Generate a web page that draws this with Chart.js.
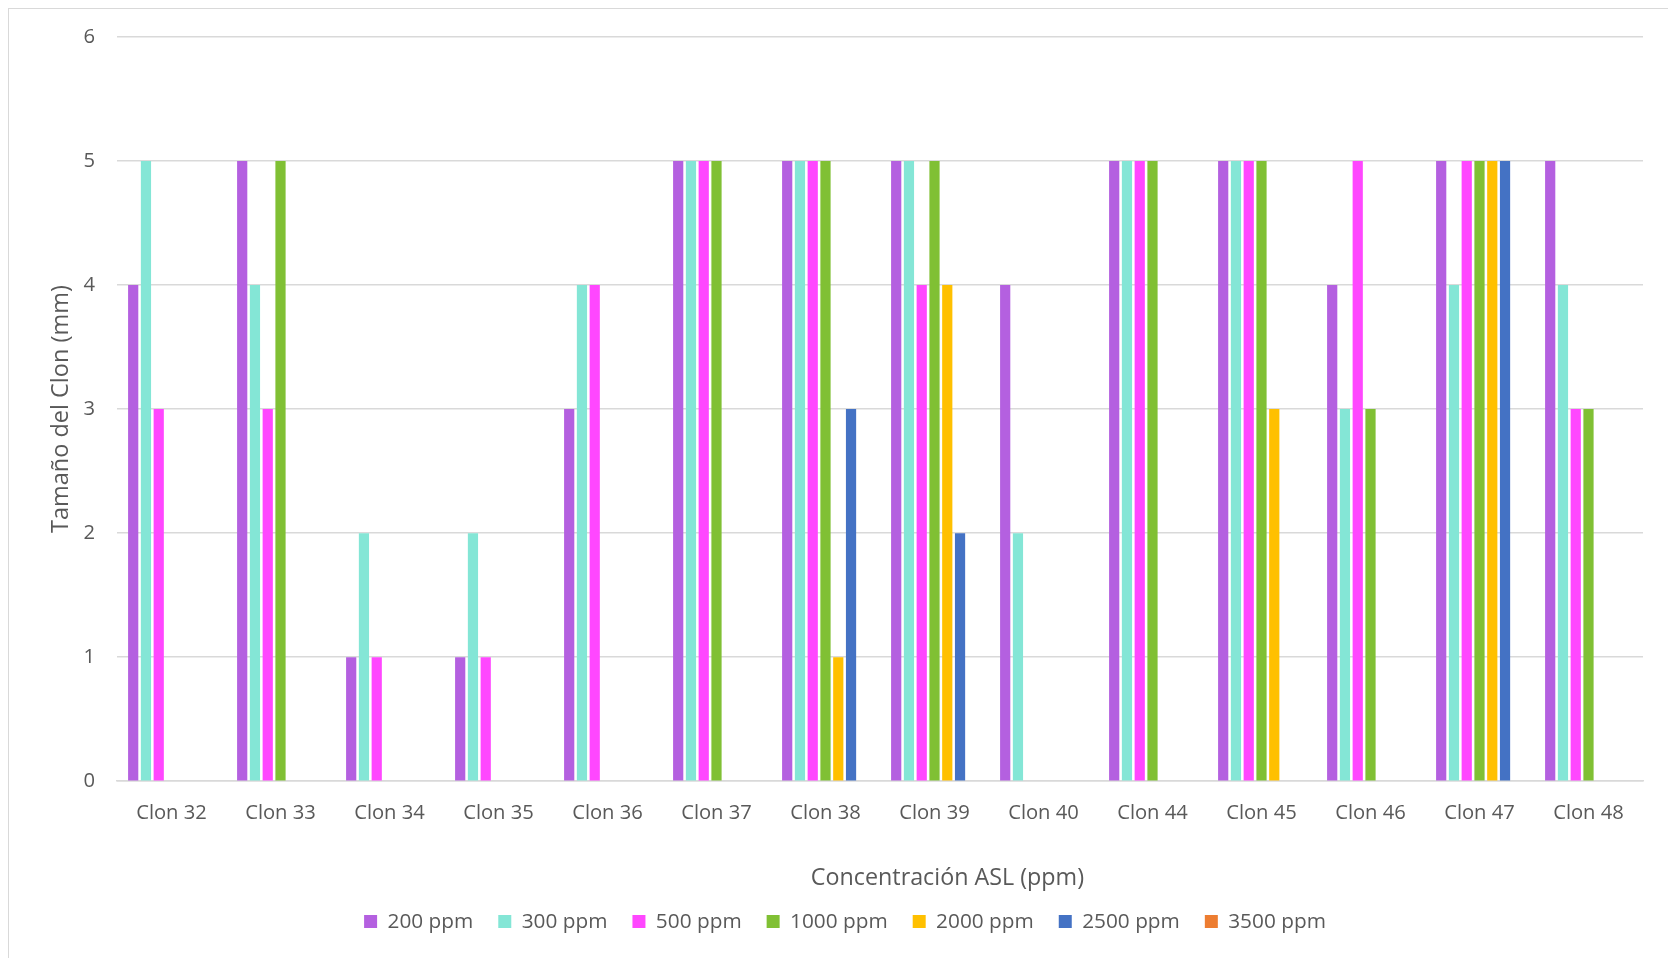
<!DOCTYPE html>
<html lang="es">
<head>
<meta charset="utf-8">
<title>Tamaño del Clon según concentración ASL</title>
<script src="https://cdn.jsdelivr.net/npm/chart.js@4.4.1/dist/chart.umd.min.js"></script>
<style>
  html, body { margin: 0; padding: 0; background: #ffffff; }
  #wrap { position: absolute; left: 0; top: 0; width: 1668px; height: 958px; }
  #frame { position: absolute; left: 8px; top: 8px; right: 0; bottom: 0;
           border-left: 1px solid #d9d9d9; border-top: 1px solid #d9d9d9; pointer-events: none; }
  canvas { display: block; }
</style>
</head>
<body>
<div id="wrap">
  <canvas id="chart" width="1668" height="958"></canvas>
  <div id="frame"></div>
</div>
<script>
// Clones measured
const categories = ['Clon 32', 'Clon 33', 'Clon 34', 'Clon 35', 'Clon 36', 'Clon 37', 'Clon 38',
                    'Clon 39', 'Clon 40', 'Clon 44', 'Clon 45', 'Clon 46', 'Clon 47', 'Clon 48'];

// Clone size (mm) for each ASL concentration
const ppm200  = [4, 5, 1, 1, 3, 5, 5, 5, 4, 5, 5, 4, 5, 5];
const ppm300  = [5, 4, 2, 2, 4, 5, 5, 5, 2, 5, 5, 3, 4, 4];
const ppm500  = [3, 3, 1, 1, 4, 5, 5, 4, 0, 5, 5, 5, 5, 3];
const ppm1000 = [0, 5, 0, 0, 0, 5, 5, 5, 0, 5, 5, 3, 5, 3];
const ppm2000 = [0, 0, 0, 0, 0, 0, 1, 4, 0, 0, 3, 0, 5, 0];
const ppm2500 = [0, 0, 0, 0, 0, 0, 3, 2, 0, 0, 0, 0, 5, 0];
const ppm3500 = [0, 0, 0, 0, 0, 0, 0, 0, 0, 0, 0, 0, 0, 0];

const seriesNames = ['200 ppm', '300 ppm', '500 ppm', '1000 ppm', '2000 ppm', '2500 ppm', '3500 ppm'];
const seriesValues = [ppm200, ppm300, ppm500, ppm1000, ppm2000, ppm2500, ppm3500];
const seriesColors = ['#b460e0', '#84e6d6', '#ff47ff', '#80c034', '#ffc000', '#4472c4', '#ed7d31'];

const yTicks = [0, 1, 2, 3, 4, 5, 6];

const textColor = '#595959';
const gridColor = '#d9d9d9';
const fontFamily = '"Open Sans", "Noto Sans", sans-serif';

const datasets = seriesNames.map((name, i) => ({
  label: name,
  data: seriesValues[i],
  backgroundColor: seriesColors[i],
  borderWidth: 0,
  categoryPercentage: 0.82,
  barPercentage: 0.8
}));

// Horizontal axis title, drawn under the tick labels
const xTitlePlugin = {
  id: 'xTitle',
  afterDraw(chart, args, opts) {
    const ctx = chart.ctx;
    ctx.save();
    ctx.font = `${opts.size}px ${fontFamily}`;
    ctx.fillStyle = textColor;
    ctx.textAlign = 'center';
    ctx.textBaseline = 'middle';
    ctx.fillText(opts.text, chart.width * opts.xFraction, chart.chartArea.bottom + opts.offset);
    ctx.restore();
  }
};

new Chart(document.getElementById('chart'), {
  type: 'bar',
  data: { labels: categories, datasets },
  plugins: [xTitlePlugin],
  options: {
    responsive: false,
    animation: false,
    layout: { padding: { left: 47, top: 37, right: 25, bottom: 16 } },
    plugins: {
      legend: {
        position: 'bottom',
        labels: {
          color: textColor,
          font: { family: fontFamily, size: 20.8 },
          boxWidth: 13,
          boxHeight: 13,
          padding: 25
        }
      },
      tooltip: { enabled: false },
      xTitle: { text: 'Concentración ASL (ppm)', size: 23.3, xFraction: 0.568, offset: 97 }
    },
    scales: {
      x: {
        grid: { display: false, drawTicks: false },
        border: { display: true, color: gridColor, width: 1.5 },
        ticks: { color: textColor, font: { family: fontFamily, size: 20.2 }, padding: 20, maxRotation: 0 },
        afterFit(scale) { scale.height = 105; }
      },
      y: {
        min: 0,
        max: 6,
        afterBuildTicks(scale) { scale.ticks = yTicks.map(v => ({ value: v })); },
        grid: { color: gridColor, lineWidth: 1.5, drawTicks: false },
        border: { display: false },
        ticks: { color: textColor, font: { family: fontFamily, size: 20.2 }, padding: 22 },
        title: {
          display: true,
          text: 'Tamaño del Clon (mm)',
          color: textColor,
          font: { family: fontFamily, size: 23.5 },
          padding: { top: 0, bottom: 0 }
        },
        afterFit(scale) { scale.width = 70; }
      }
    }
  }
});
</script>
</body>
</html>
